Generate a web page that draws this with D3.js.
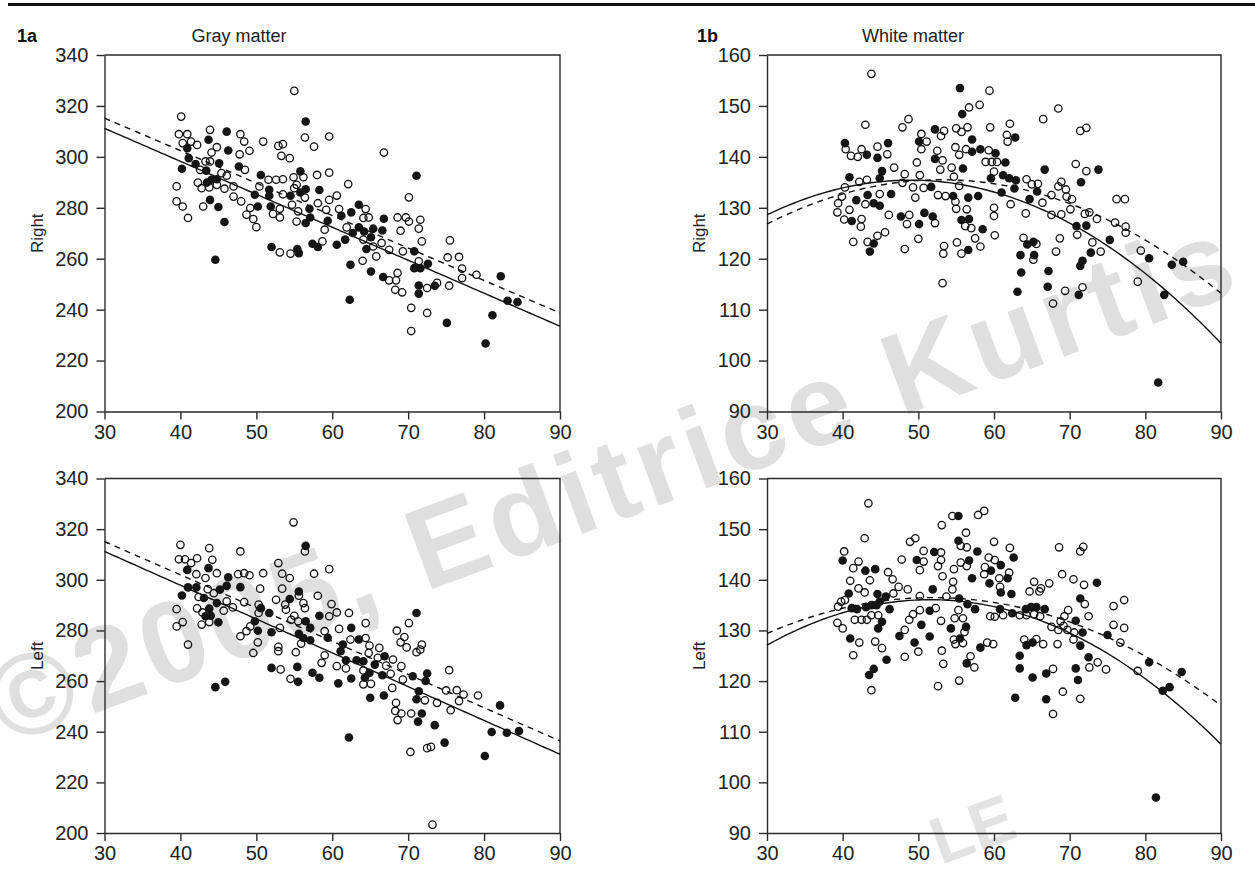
<!DOCTYPE html>
<html>
<head>
<meta charset="utf-8">
<script src="https://cdn.jsdelivr.net/npm/d3@7"></script>
<style>
body { margin: 0; background: #fff; }
svg { display: block; font-family: "Liberation Sans", Arial, sans-serif; }
</style>
</head>
<body>
<svg width="1255" height="870"></svg>
<script>
var ageTicks = [30, 40, 50, 60, 70, 80, 90];
var grayTicks = [200, 220, 240, 260, 280, 300, 320, 340];
var whiteTicks = [90, 100, 110, 120, 130, 140, 150, 160];

// [age, volume] pairs; open = one group, filled = the other
var grayRightOpen = [[55,325.9],[40.1,315.8],[39.8,308.9],[40.9,308.9],[43.9,310.6],[47.9,308.9],[48.4,306],[40.3,305.4],[41.4,306],[42.2,304.7],[44.8,303.8],[44.1,301.7],[49.1,302.4],[47.8,301],[50.9,306],[52.9,304.3],[53.5,305],[53.3,300.4],[54.4,299.5],[56.4,307.6],[57.6,304],[59.6,308],[42.6,294.9],[43.3,298.2],[43.9,298.2],[48.5,294.9],[45.4,293.6],[46.1,292.6],[42.3,289.9],[42.8,287.7],[43.8,288],[44.8,289],[45.8,287.5],[47,288.4],[39.5,288.4],[39.5,282.5],[40.3,280.5],[41,276],[43,280.5],[47,284.4],[48,282.5],[51.6,291],[52.6,291],[53.5,291.2],[50.4,288.4],[53.5,285.3],[49.2,279.9],[53.1,279.6],[52.2,277.6],[53.1,276.2],[48.7,277.3],[49.6,275.6],[50,272.4],[54.9,292],[56.2,292],[55,287.7],[55.3,289],[54.7,281.2],[55.5,278.6],[56.4,284],[55.3,274.6],[58,292.9],[58.1,281.8],[59.6,293.8],[59.6,283.1],[59.2,279.2],[59,271.4],[58.7,266.8],[53.1,262.5],[54.5,262],
  [66.8,301.7],[62.1,289.3],[60.6,284.8],[70.1,284.1],[60.9,279.5],[64.4,279.5],[64.1,276],[64.8,276.2],[68.6,276.2],[69.7,276.2],[70.1,274.6],[71.6,275.3],[69,271],[71.4,271.8],[61.9,272.3],[64.1,267.5],[65.4,264.8],[66.5,266.2],[67.5,263.5],[65.8,260.9],[64,259.2],[67.5,251.5],[68.6,254.4],[68.4,251.5],[68.3,247.8],[69.2,246.8],[69.3,262.9],[71.8,266.8],[71.4,259],[72.5,248.5],[73.8,250.5],[75.4,249.4],[75.5,267.2],[75.2,260.5],[76.7,260.7],[77.1,256.1],[77.1,252.4],[79,253.7],[70.4,240.7],[72.5,238.7],[70.4,231.6]];
var grayRightFilled = [[56.5,313.9],[46.1,309.9],[43.7,306.7],[40.9,303.4],[46.3,302.5],[41.1,299.5],[42,297.2],[40.2,295.3],[43.4,294.6],[45.1,297.5],[47.7,296.2],[44.8,291.2],[44.1,291],[43.5,289.9],[43.9,283.1],[45,280.3],[45.8,274.4],[44.6,259.6],[50.6,292.9],[49.8,285.1],[51.7,287.1],[51.7,284.7],[54.5,284.7],[50.2,280.5],[51.9,280.5],[55.8,294.3],[55.8,286],[56.5,287.3],[57,279.6],[57.1,276.2],[56.5,274],[58.3,287],[59.4,274.9],[52,264.6],[55.4,263.8],[55.6,262.2],[57.4,265.9],[58.1,264.6],
  [71.1,292.6],[61.2,276.9],[62.5,278.2],[63.5,281.2],[66.8,275.7],[61.7,267.5],[60.6,265.5],[62.7,270.1],[63.5,272.3],[64.2,270.7],[65.1,268.4],[65.4,271.8],[66.6,271.1],[64.5,263.8],[62.4,257.6],[65.1,255],[66.7,252.8],[70.8,262.9],[70.8,256.3],[71.6,256.3],[72.6,258],[71.4,249.5],[71.4,246.3],[73.5,249.4],[82.2,253.1],[83.1,243.5],[84.4,243],[81.1,237.8],[80.2,226.7],[75.1,234.8],[62.3,243.9]];

var grayLeftOpen = [[54.9,322.7],[56.4,311.2],[40,313.8],[39.8,308.1],[40.6,308.1],[42.2,308.5],[43.8,312.5],[44.2,307.9],[41.4,306.6],[44.8,302.6],[42.1,302.2],[43.3,300.7],[47.9,311.2],[47.6,302.2],[48.4,302.6],[49.1,301.8],[50.9,302.6],[52.9,306.6],[53.4,302.4],[54.4,300.7],[57.6,302.4],[59.6,304.2],[43.6,296.3],[44.4,294.7],[42.4,293.2],[42.2,288.7],[42.9,287.1],[43.8,283.3],[42.8,282.3],[45.7,287.8],[46.9,289.1],[46.1,291.5],[39.5,288.4],[39.5,281.6],[40.3,283.3],[41,274.4],[48.4,291.2],[50.5,296.5],[47.9,277.7],[48.7,279.7],[49.2,281.6],[50.2,275.3],[49.6,271.1],[50.3,286.9],[50.3,290.2],[52.6,292.1],[53.8,290.2],[53.4,296.5],[55.6,293.7],[56.2,290.8],[56.4,288.8],[53.9,288.2],[55,285.8],[54.6,284.2],[55.5,283.6],[53.1,281],[55.9,274.8],[52.9,273.5],[52.9,271.8],[55.2,271.4],[58.1,293.7],[59.6,285.6],[59,279.7],[59,270.2],[58.6,267.2],[53.2,264.6],[54.5,260.9],
  [59.9,290.4],[60.6,287.1],[62.2,286.9],[60.9,280.6],[62.4,276.4],[64.4,282.9],[64.4,277],[64.9,274],[66.2,273.1],[68,268.5],[66,269.2],[64.8,271.1],[60.6,265.9],[61.8,265],[64.1,264.2],[65.1,258.9],[64.1,258.7],[67.7,262.9],[67.1,266.1],[69.1,265.9],[69.3,260.6],[67.9,257.3],[68.4,251.4],[68.3,248.2],[69.1,247.2],[68.6,244.6],[70.4,247.2],[72.2,252.4],[73.8,251.4],[75.6,248.5],[75,256.3],[75.4,264.3],[76.4,256.4],[76.7,252.1],[77.3,254.7],[79.2,254.3],[72.5,233.5],[73,234],[70.3,232],[73.2,203.3],[70.1,282.9],[68.5,279.9],[69.5,277.4],[69,275.3],[69.8,273.3],[71.8,274.4],[71.6,272.4],[71.1,271.4]];
var grayLeftFilled = [[56.5,313.4],[40.9,303.9],[43.7,304.6],[46.3,301],[46.1,297.6],[45.2,296.1],[41,297],[42.1,297],[40.2,293.8],[43.1,292.8],[44.8,290.8],[43.8,288.6],[43.3,285.6],[44,285.8],[45,283.2],[47.9,297.1],[49.8,283.6],[50.2,279.9],[50.6,288.8],[51.7,286.9],[52,279.3],[54.4,292.4],[55.6,295.4],[56.5,283.6],[57.1,281],[55.6,278.7],[56.2,277],[57.1,276.1],[58.3,285.8],[59.4,277.1],[52,265.2],[55.4,265.6],[55.5,259.7],[57.4,263.3],[58.3,261.3],[44.6,257.6],[45.9,259.7],
  [62.5,281],[63.5,276.4],[61.4,274.4],[61.1,271.8],[66.9,269.8],[61.8,268.2],[63.2,268.2],[64.1,267.8],[65.6,266.5],[64.9,263.2],[64.3,261.3],[66.6,262.3],[70.6,261.9],[72.5,263],[72.3,260],[62.5,261],[60.8,259.1],[65,253.4],[66.8,254.3],[71.4,256],[71.1,252.8],[71.8,247.2],[71.3,244],[73.5,242.6],[82.1,250.4],[81,239.9],[83,239.6],[84.6,240.3],[80.1,230.4],[74.8,235.7],[62.2,237.7],[71.1,286.9]];

var whiteRightOpen = [[43.8,156.3],[59.4,153],[56.7,149.7],[58.1,150.2],[43,146.3],[48.7,147.4],[47.9,145.8],[53.4,145.1],[53,144.1],[55,145.6],[55.7,144.9],[56.5,145.8],[59.5,145.8],[62.1,146.5],[61.7,144.3],[61.8,143],[50.4,144.5],[51.1,143],[50.4,141.5],[40.4,141.5],[42.5,141.5],[41.1,140.2],[42,140],[44.6,142],[45.9,140.5],[52.5,141.2],[54.9,141.9],[55.4,140.4],[56.3,141.5],[59.3,141.3],[53.2,139.3],[49.8,138.9],[58.9,139],[59.7,139],[60.4,139],[60,137.1],[52.9,137.5],[54.4,137.9],[54.7,136.1],[50.2,136.4],[46.8,137.9],[48.2,136.6],[47.9,134.9],[42.2,135.1],[43.2,135.5],[40.3,134],[39.9,132.2],[39.4,130.9],[39.3,129.1],[40.2,127.7],[40.9,129.6],[43,130.7],[44.9,132.7],[46.1,128.6],[42.5,127.8],[42.4,126.3],[48.8,128.6],[48.5,126.8],[49.6,132],[49.3,134],[52.2,127],[50.7,133.9],[52.6,132.5],[53.6,132.3],[55.4,134.3],[54.9,131.2],[55,129.8],[56.4,129.7],[56.2,126.4],[57,126],[60,130],[60,128.4],[60.1,124.6],[62.2,130.7],[45.6,125.2],[44.6,124.5],[43.3,123.3],[41.4,123.3],[50,123.9],[48.2,121.9],[53.4,122.5],[53.3,121],[55.1,123.2],[55.7,121],[57.5,124],[58.2,122.4],[53.2,115.2],
  [68.5,149.5],[66.5,147.4],[71.4,145.1],[72.2,145.7],[70.8,138.6],[72.2,137.2],[64.3,135.6],[65,134.6],[65.8,134.7],[66.4,131],[67.6,132.5],[68.5,134.2],[68.9,135.1],[69.5,133.6],[69.6,132.2],[70.3,131.7],[70.1,129.7],[68.9,128.7],[67.6,128.6],[64.2,128.9],[72,128.8],[72.6,129.1],[73.6,127.8],[76,127.1],[77.4,126.3],[77.4,125.1],[76.2,131.7],[77.3,131.7],[71,124.7],[68.7,124],[63.9,124.1],[65.6,122.9],[65.2,119.8],[68.2,121.4],[73,123.2],[74.1,121.4],[69.4,113.7],[71.7,114.4],[67.8,111.2],[79.4,121.6],[79,115.5]];
var whiteRightFilled = [[55.5,153.5],[55.8,148.4],[52.2,145.4],[62.8,143.8],[57.1,143.4],[50.1,143],[40.3,142.7],[43.2,140.4],[46,142.7],[44.6,139.8],[57.1,141],[58.2,141.5],[60.2,140.7],[52.2,139.6],[61.5,138.9],[61.2,136.4],[62,135.8],[62.9,135.4],[59.6,135.8],[55.9,137.7],[45.2,137.2],[44.9,135.8],[40.9,136],[41.8,131.5],[43.3,132.5],[44.1,130.9],[44.9,130.4],[46.4,132.7],[41.2,127.4],[47.7,128.3],[50.1,126.8],[50.8,129],[51.9,128.3],[51.7,134.1],[54.6,132.3],[56.6,132],[57.9,132.3],[55.7,127.6],[56.7,127.8],[58.5,125.8],[61,133],[62.7,133.8],[44.1,123],[43.6,121.4],[56.6,121.7],
  [66.7,137.5],[73.8,137.5],[71.5,135],[65.7,133.2],[64.7,131.7],[70.9,126.4],[72.2,126.5],[75.3,123.7],[64.4,122.8],[65.2,123.3],[65.3,120.7],[63.5,120.7],[72.8,121.2],[71.7,119.6],[71.4,118.6],[63.6,117.3],[67.2,117.6],[63.1,113.5],[67.1,114.5],[71.2,112.9],[80.5,120.1],[83.5,118.8],[85,119.4],[82.5,112.9],[81.7,95.7]];

var whiteLeftOpen = [[43.4,155.1],[54.5,152.6],[58.7,153.6],[57.9,152.8],[53.1,150.8],[56.3,149.3],[55.6,146.7],[56.4,146.4],[60,147.5],[62.1,146.3],[42.9,148.2],[40.2,145.6],[42.1,143.6],[41.4,142.3],[41,139.8],[42.1,138.3],[43.6,139.9],[42.9,137.5],[40.3,136],[39.8,135.7],[39.4,134.7],[46,141.5],[46.6,140.1],[47.4,138.6],[46.7,137.3],[41.6,132.1],[42.5,132.1],[43.2,132.1],[43.8,133],[44.7,133],[39.3,131.5],[40,130.4],[42.2,127.6],[44.3,127.8],[45.2,126.5],[41.4,125.1],[43.8,118.2],[47.8,144],[48.9,147.5],[49.6,148.2],[50.7,145.7],[53,145.4],[50.7,143.6],[50.2,141.9],[53,143.9],[52.6,142.7],[53.2,140.7],[54.7,142.1],[55.6,143.4],[54.6,139.6],[54.5,138.1],[48.6,138.1],[50.2,136.8],[53.7,136.7],[56.4,142.7],[58.8,142.5],[59.3,144.4],[58.7,141.1],[60.1,143.9],[62,141.4],[60.7,140.3],[60.8,138.6],[55.3,134],[52.3,134.4],[50.2,134],[49.3,133.2],[48.8,132.1],[48.2,130.1],[50,125.8],[48.2,124.8],[53,131.9],[54.8,132.4],[55.9,132.4],[56.1,129.7],[54.7,128.2],[54.9,127.3],[55.9,127.5],[53.1,126],[53.3,123.4],[59.1,127.6],[59.9,127.3],[56.9,124.9],[57.4,122.7],[55.4,120.1],[52.6,119],[59.5,132.8],[60.1,132.7],[61.2,133],[63.4,133],[64.3,133],[65.3,133.2],[66.1,132.8],[64.7,137.7],[65.3,139.6],[66,137.7],[66.2,138.3],[67.3,139.3],[69,141.1],[68.6,146.4],[71.4,145.6],[71.8,146.5],[70.5,140.1],[71.9,139],[72,135.2],[72.5,132.8],[69.8,134],[69.3,132.8],[68.8,131.8],[67.6,130.7],[68.5,130.1],[69.2,130.9],[69.7,130.1],[70.6,129.6],[68.4,127.3],[70.5,128.2],[64,128.2],[65.6,128.3],[66.5,127.3],[67.8,122.4],[69.1,117.9],[67.8,113.5],[71.4,116.5],[72.6,122.7],[73.7,123.7],[74.8,122.3],[75.8,134.8],[77.2,136],[75.8,131.1],[77.2,130.5],[76.7,127.6],[79,122]];
var whiteLeftFilled = [[55.3,152.6],[55.3,147.7],[62.6,144.4],[57.8,145.6],[40,143.8],[43,141.8],[44.3,142.1],[40.8,137.3],[41.2,134.4],[41.9,134.2],[43.1,134.6],[43.8,135],[44.5,135],[44.9,135.7],[44.6,137.2],[45.7,136.7],[46.2,134.2],[45.2,131.7],[44.7,130.4],[41,128.4],[45.8,124.2],[44.1,122.4],[43.5,121.2],[52.1,145.5],[49.8,143.9],[51.9,138.1],[55.4,136.3],[56.7,143.8],[57.1,140.3],[59.6,141.8],[60.9,142.9],[59.4,139.3],[61.8,140.3],[60.9,137.5],[62.3,137.2],[56.5,135.2],[57.5,134.2],[51.5,133.9],[50.4,131.1],[51.5,128.8],[47.5,128.9],[49.5,127.6],[54.3,130.4],[56.3,130.7],[55.5,128.4],[58.2,126.6],[56.4,123.5],[60.8,134.2],[62.4,133.4],[64.2,134.2],[64.9,134.6],[65.6,134.6],[66.7,134.2],[73.6,139.4],[71.4,136.3],[70.8,131.9],[71.7,129.6],[71.4,127],[64.3,127.1],[65.1,127.6],[63.4,125],[63.4,122.5],[65.1,120.7],[66.9,121.5],[62.8,116.7],[66.9,116.4],[70.8,122.5],[71.1,120.2],[72.5,124.7],[75,129.1],[80.5,123.7],[84.8,121.8],[82.3,118.1],[83.2,118.8],[81.4,97]];

// fitted curves, y = a + b*age + c*age^2  (solid = filled group, dashed = open group)
var grayRightFit = [350.05, -1.295, 0];
var grayRightFitDash = [353.45, -1.275, 0];
var grayLeftFit = [351.25, -1.335, 0];
var grayLeftFitDash = [354.45, -1.312, 0];
var whiteRightFit = [89.9, 1.86, -0.019];
var whiteRightFitDash = [89.45, 1.7358, -0.016354];
var whiteLeftFit = [84.77, 1.99, -0.0193];
var whiteLeftFitDash = [96.8, 1.528, -0.01471];

var svg = d3.select("svg");
var ink = "#2a2a2a";

// faint publisher watermarks behind everything
svg.append("text")
    .attr("transform", "translate(6,746) rotate(-20.2)")
    .attr("font-size", 116)
    .attr("font-weight", "bold")
    .attr("letter-spacing", 5.5)
    .attr("fill", "#dfdfdf")
    .text("\u00a92005, Editrice Kurtis");
svg.append("text")
    .attr("transform", "translate(1020,836) rotate(-20.2)")
    .attr("text-anchor", "end")
    .attr("font-size", 66)
    .attr("font-weight", "bold")
    .attr("fill", "#e2e2e2")
    .text("LE");

// rule across the top
svg.append("line")
    .attr("x1", 8).attr("x2", 1255).attr("y1", 4.5).attr("y2", 4.5)
    .attr("stroke", "#111").attr("stroke-width", 3);

function quad(c) {
    return function(x) { return c[0] + c[1] * x + c[2] * x * x; };
}

function panel(x0, x1, y0, y1, domain, yTicks, open, filled, fit, fitDash, label) {
    var x = d3.scaleLinear().domain([30, 90]).range([x0, x1]);
    var y = d3.scaleLinear().domain(domain).range([y1, y0]);
    var g = svg.append("g");

    g.append("g")
        .attr("transform", "translate(0," + y1 + ")")
        .call(d3.axisBottom(x).tickValues(ageTicks).tickSize(8).tickPadding(5).tickSizeOuter(0));
    g.append("g")
        .attr("transform", "translate(" + x0 + ",0)")
        .call(d3.axisLeft(y).tickValues(yTicks).tickSize(8).tickPadding(8).tickSizeOuter(0));
    g.selectAll(".domain, .tick line").attr("stroke", ink).attr("stroke-width", 1.4);
    g.selectAll(".tick text").attr("font-size", 20).attr("fill", "#222")
        .attr("font-family", "'Liberation Sans', Arial, sans-serif");

    // top and right edges of the box
    g.append("path")
        .attr("d", "M" + x0 + "," + y0 + "H" + x1 + "V" + y1)
        .attr("fill", "none").attr("stroke", ink).attr("stroke-width", 1.4);

    g.append("text")
        .attr("transform", "translate(" + (x0 - 62) + "," + ((y0 + y1) / 2) + ") rotate(-90)")
        .attr("text-anchor", "middle")
        .attr("font-size", 17)
        .attr("fill", "#222")
        .text(label);

    var ages = d3.range(30, 90.001, 0.5);
    var line = d3.line().x(function(d) { return x(d); });
    g.append("path")
        .attr("d", line.y(function(d) { return y(quad(fit)(d)); })(ages))
        .attr("fill", "none").attr("stroke", "#111").attr("stroke-width", 1.4);
    g.append("path")
        .attr("d", line.y(function(d) { return y(quad(fitDash)(d)); })(ages))
        .attr("fill", "none").attr("stroke", "#111").attr("stroke-width", 1.4)
        .attr("stroke-dasharray", "6,5");

    g.selectAll("circle.open").data(open).enter().append("circle")
        .attr("class", "open")
        .attr("cx", function(d) { return x(d[0]); })
        .attr("cy", function(d) { return y(d[1]); })
        .attr("r", 3.7)
        .attr("fill", "none").attr("stroke", "#111").attr("stroke-width", 1.3);
    g.selectAll("circle.filled").data(filled).enter().append("circle")
        .attr("class", "filled")
        .attr("cx", function(d) { return x(d[0]); })
        .attr("cy", function(d) { return y(d[1]); })
        .attr("r", 4.3)
        .attr("fill", "#151515");
}

panel(104.5, 560, 55, 411.5, [200, 340], grayTicks, grayRightOpen, grayRightFilled, grayRightFit, grayRightFitDash, "Right");
panel(104.5, 560, 478.5, 833, [200, 340], grayTicks, grayLeftOpen, grayLeftFilled, grayLeftFit, grayLeftFitDash, "Left");
panel(767, 1221, 55, 411.5, [90, 160], whiteTicks, whiteRightOpen, whiteRightFilled, whiteRightFit, whiteRightFitDash, "Right");
panel(767, 1221, 478.5, 833, [90, 160], whiteTicks, whiteLeftOpen, whiteLeftFilled, whiteLeftFit, whiteLeftFitDash, "Left");

// panel headers
svg.append("text").attr("x", 17).attr("y", 42).attr("font-size", 18).attr("font-weight", "bold").attr("fill", "#111").text("1a");
svg.append("text").attr("x", 239).attr("y", 42).attr("font-size", 18).attr("text-anchor", "middle").attr("fill", "#222").text("Gray matter");
svg.append("text").attr("x", 697).attr("y", 42).attr("font-size", 18).attr("font-weight", "bold").attr("fill", "#111").text("1b");
svg.append("text").attr("x", 913).attr("y", 42).attr("font-size", 18).attr("text-anchor", "middle").attr("fill", "#222").text("White matter");
</script>
</body>
</html>
